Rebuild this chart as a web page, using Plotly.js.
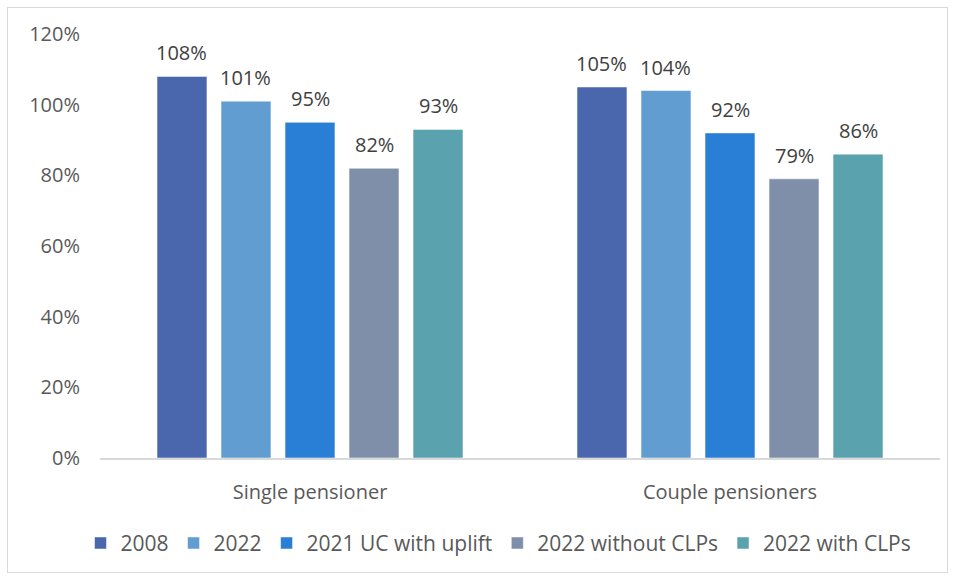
<!DOCTYPE html>
<html>
<head>
<meta charset="utf-8">
<script src="https://cdn.plot.ly/plotly-3.0.1.min.js"></script>
<style>
  html, body { margin:0; padding:0; background:#fff; }
  #chart { width:955px; height:578px; position:absolute; left:0; top:0; }
  #frame { position:absolute; left:7px; top:7px; width:941px; height:566px; border:1px solid #d9d9d9; pointer-events:none; box-sizing:border-box; }
</style>
</head>
<body>
<div id="chart"></div>
<div id="frame"></div>
<script>
const categories = ["Single pensioner", "Couple pensioners"];
const seriesNames = ["2008", "2022", "2021 UC with uplift", "2022 without CLPs", "2022 with CLPs"];
const v2008 = [1.08, 1.05];
const v2022 = [1.01, 1.04];
const v2021uc = [0.95, 0.92];
const v2022without = [0.82, 0.79];
const v2022with = [0.93, 0.86];
const colors = ["#4A66AC", "#629DD1", "#297FD5", "#7F8FA9", "#5AA2AE"];

const allValues = [v2008, v2022, v2021uc, v2022without, v2022with];
const fontFam = "'Open Sans', sans-serif";

const W = 955, H = 578;
const margin = { l: 100, r: 15, t: 34, b: 120 };
const bargap = 0.238, bargroupgap = 0.22;

const traces = allValues.map((vals, i) => ({
  type: "bar",
  name: seriesNames[i],
  x: categories,
  y: vals,
  marker: { color: colors[i], line: { color: "#ffffff", width: 0.5 } },
  hoverinfo: "skip"
}));

// data labels as annotations anchored on each bar's value
const plotW = W - margin.l - margin.r;
const slot = (plotW / categories.length) * (1 - bargap) / allValues.length;
const annotations = [];
allValues.forEach((vals, i) => {
  vals.forEach((v, j) => {
    annotations.push({
      x: categories[j], y: v, xref: "x", yref: "y",
      text: Math.round(v * 100) + "%",
      showarrow: false,
      xanchor: "center", yanchor: "bottom",
      xshift: (i - (allValues.length - 1) / 2) * slot,
      yshift: 8,
      font: { family: fontFam, size: 20, color: "#404040" }
    });
  });
});

const layout = {
  width: W, height: H,
  margin: margin,
  paper_bgcolor: "rgba(0,0,0,0)",
  plot_bgcolor: "rgba(0,0,0,0)",
  barmode: "group",
  bargap: bargap,
  bargroupgap: bargroupgap,
  font: { family: fontFam, size: 20, color: "#595959" },
  annotations: annotations,
  xaxis: {
    showline: true, linecolor: "#d9d9d9", linewidth: 1.5,
    showgrid: false, ticks: "",
    ticklabelstandoff: 15,
    tickfont: { family: fontFam, size: 20, color: "#595959" }
  },
  yaxis: {
    range: [0, 1.2], dtick: 0.2, tickformat: ".0%",
    showgrid: false, zeroline: false, showline: false, ticks: "",
    ticklabelstandoff: 19,
    tickfont: { family: fontFam, size: 20, color: "#595959" }
  },
  showlegend: true,
  legend: {
    orientation: "h",
    xref: "container", yref: "container",
    x: 0.522, xanchor: "center",
    y: 0.06, yanchor: "middle",
    font: { family: fontFam, size: 21, color: "#595959" },
    itemwidth: 30,
    tracegroupgap: 0,
    traceorder: "normal"
  }
};

Plotly.newPlot("chart", traces, layout, { displayModeBar: false, staticPlot: true });
</script>
</body>
</html>
